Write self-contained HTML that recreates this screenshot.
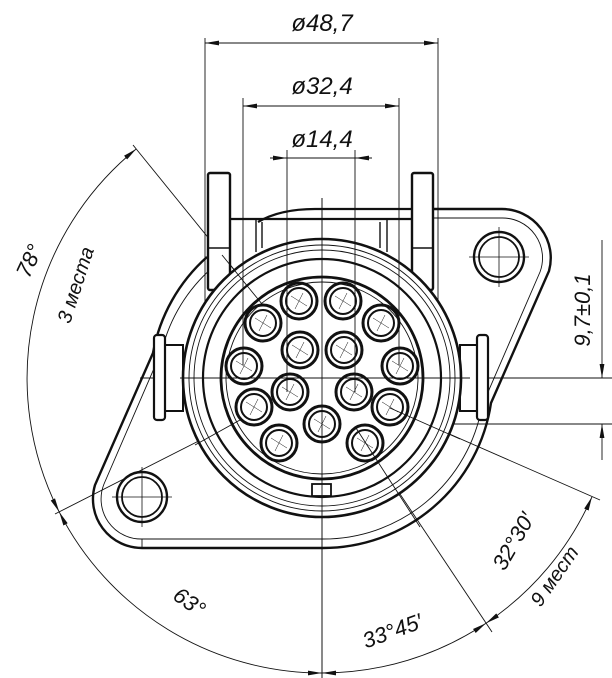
<!DOCTYPE html>
<html><head><meta charset="utf-8"><style>
html,body{margin:0;padding:0;background:#fff;}
svg{display:block;}
text{font-family:"Liberation Sans","DejaVu Sans",sans-serif;font-style:italic;fill:#111;}
</style></head><body>
<svg width="612" height="678" viewBox="0 0 612 678" xmlns="http://www.w3.org/2000/svg">
<defs>
<marker id="a" markerUnits="userSpaceOnUse" markerWidth="16" markerHeight="8" viewBox="-14 -4 16 8" refX="0" refY="0" orient="auto-start-reverse">
<path d="M0,0 L-14,-2.4 L-14,2.4 z" fill="#111"/>
</marker>
<g id="pc"><line x1="-8" y1="-5" x2="8" y2="5"/><line x1="-4" y1="8" x2="4" y2="-8"/></g>
</defs>
<g fill="none" stroke="#111">
<g stroke-width="0.9">
<line x1="322" y1="198" x2="322" y2="686"/>
<line x1="140" y1="378" x2="612" y2="378"/>
<line x1="400" y1="424" x2="612" y2="424"/>
<line x1="205" y1="38" x2="205" y2="330"/>
<line x1="438" y1="38" x2="438" y2="330"/>
<line x1="243" y1="98" x2="243" y2="365"/>
<line x1="399" y1="98" x2="399" y2="365"/>
<line x1="287" y1="150" x2="287" y2="392"/>
<line x1="355" y1="150" x2="355" y2="392"/>
<line x1="133" y1="145" x2="262" y2="304"/>
<line x1="55" y1="514" x2="240" y2="420"/>
<line x1="492" y1="632" x2="356" y2="428"/>
<line x1="600" y1="500" x2="390" y2="408"/>
<line x1="205" y1="43" x2="438" y2="43" marker-start="url(#a)" marker-end="url(#a)"/>
<line x1="243" y1="106" x2="399" y2="106" marker-start="url(#a)" marker-end="url(#a)"/>
<line x1="277" y1="158" x2="366" y2="158"/>
<line x1="270" y1="158" x2="287" y2="158" marker-end="url(#a)"/>
<line x1="372" y1="158" x2="355" y2="158" marker-end="url(#a)"/>
<line x1="602" y1="240" x2="602" y2="378" marker-end="url(#a)"/>
<line x1="602" y1="460" x2="602" y2="424" marker-end="url(#a)"/>
<path d="M136.4,148.8 A295,295 0 0 0 59.2,511.9" marker-start="url(#a)" marker-end="url(#a)"/>
<path d="M59.2,511.9 A295,295 0 0 0 322,673" marker-start="url(#a)" marker-end="url(#a)"/>
<path d="M322,673 A295,295 0 0 0 486,623.2" marker-start="url(#a)" marker-end="url(#a)"/>
<path d="M486,623.2 A295,295 0 0 0 592,496.8" marker-start="url(#a)" marker-end="url(#a)"/>
</g>
<path d="M207,257 A169,169 0 0 0 153,353 L95,485 A49,49 0 0 0 142,548 L322,548 A170,170 0 0 0 491,403 L549,271 A49,49 0 0 0 502,209 L433,209" stroke-width="2.4"/>
<path d="M212,268 A160,160 0 0 0 162,350 L104,484 A40,40 0 0 0 142,539 L322,539 A161,161 0 0 0 482,406 L540,272 A40,40 0 0 0 502,218 L433,218" stroke-width="0.9"/>
<line x1="142" y1="539" x2="142" y2="548" stroke-width="0.9"/>
<circle cx="142" cy="497" r="25" stroke-width="2.4"/>
<circle cx="142" cy="497" r="20" stroke-width="1.8"/>
<circle cx="499" cy="257" r="25" stroke-width="2.4"/>
<circle cx="499" cy="257" r="20" stroke-width="1.8"/>
<g stroke-width="0.8">
<line x1="112" y1="497" x2="172" y2="497"/><line x1="142" y1="467" x2="142" y2="527"/>
<line x1="469" y1="257" x2="529" y2="257"/><line x1="499" y1="227" x2="499" y2="287"/>
</g>
<path d="M258,222 Q280,209 315,209 L412,209" stroke-width="2.2"/>
<line x1="230" y1="219" x2="412" y2="219" stroke-width="2.2"/>
<g stroke-width="1.4">
<line x1="256" y1="219" x2="256" y2="252"/><line x1="262" y1="222" x2="262" y2="248"/>
<line x1="380" y1="222" x2="380" y2="248"/><line x1="387" y1="219" x2="387" y2="252"/>
</g>
<rect x="208" y="173" width="22" height="117" rx="2" fill="#fff" stroke-width="2.4"/>
<line x1="208" y1="248" x2="230" y2="248" stroke-width="1.6"/>
<rect x="412" y="173" width="21" height="117" rx="2" fill="#fff" stroke-width="2.4"/>
<line x1="412" y1="248" x2="433" y2="248" stroke-width="1.6"/>
<rect x="165" y="345" width="18" height="66" fill="#fff" stroke-width="2"/>
<rect x="154" y="335" width="11" height="85" rx="3" fill="#fff" stroke-width="2.2"/>
<rect x="460" y="345" width="17" height="66" fill="#fff" stroke-width="2"/>
<rect x="477" y="335" width="11" height="85" rx="3" fill="#fff" stroke-width="2.2"/>
<circle cx="322" cy="378" r="139" fill="#fff" stroke-width="2.6"/>
<circle cx="322" cy="378" r="133" stroke-width="0.9"/>
<circle cx="322" cy="378" r="128" stroke-width="0.9"/>
<circle cx="322" cy="378" r="119" stroke-width="2.2"/>
<circle cx="322" cy="378" r="101" stroke-width="2.8"/>
<circle cx="322" cy="378" r="96" stroke-width="0.9"/>
<rect x="312" y="484" width="19" height="12" fill="#fff" stroke-width="1.8"/>
<g stroke-width="0.9">
<line x1="322" y1="198" x2="322" y2="686"/>
<line x1="180" y1="378" x2="470" y2="378"/>
<line x1="243" y1="240" x2="243" y2="365"/>
<line x1="399" y1="240" x2="399" y2="365"/>
<line x1="287" y1="240" x2="287" y2="392"/>
<line x1="355" y1="240" x2="355" y2="392"/>
<line x1="222" y1="255" x2="262" y2="304"/>
<line x1="195" y1="445" x2="240" y2="420"/>
<line x1="420" y1="527" x2="356" y2="428"/>
<line x1="460" y1="439" x2="390" y2="408"/>
</g>
<g stroke-width="0.5">
<use href="#pc" x="299" y="301"/><use href="#pc" x="343" y="301"/>
<use href="#pc" x="381" y="323"/><use href="#pc" x="263" y="323"/>
<use href="#pc" x="400" y="366"/><use href="#pc" x="244" y="366"/>
<use href="#pc" x="390" y="407"/><use href="#pc" x="254" y="407"/>
<use href="#pc" x="365" y="443"/><use href="#pc" x="279" y="443"/>
<use href="#pc" x="300" y="350"/><use href="#pc" x="344" y="350"/>
<use href="#pc" x="290" y="392"/><use href="#pc" x="354" y="392"/>
<use href="#pc" x="322" y="424"/>
</g>
<g stroke-width="3">
<circle cx="299" cy="301" r="18"/><circle cx="343" cy="301" r="18"/>
<circle cx="381" cy="323" r="18"/><circle cx="263" cy="323" r="18"/>
<circle cx="400" cy="366" r="18"/><circle cx="244" cy="366" r="18"/>
<circle cx="390" cy="407" r="18"/><circle cx="254" cy="407" r="18"/>
<circle cx="365" cy="443" r="18"/><circle cx="279" cy="443" r="18"/>
<circle cx="300" cy="350" r="18"/><circle cx="344" cy="350" r="18"/>
<circle cx="290" cy="392" r="18"/><circle cx="354" cy="392" r="18"/>
<circle cx="322" cy="424" r="18"/>
</g>
<g stroke-width="2">
<circle cx="299" cy="301" r="13"/><circle cx="343" cy="301" r="13"/>
<circle cx="381" cy="323" r="13"/><circle cx="263" cy="323" r="13"/>
<circle cx="400" cy="366" r="13"/><circle cx="244" cy="366" r="13"/>
<circle cx="390" cy="407" r="13"/><circle cx="254" cy="407" r="13"/>
<circle cx="365" cy="443" r="13"/><circle cx="279" cy="443" r="13"/>
<circle cx="300" cy="350" r="13"/><circle cx="344" cy="350" r="13"/>
<circle cx="290" cy="392" r="13"/><circle cx="354" cy="392" r="13"/>
<circle cx="322" cy="424" r="13"/>
</g>
</g>
<text x="322" y="31" font-size="24" text-anchor="middle">ø48,7</text>
<text x="322" y="94" font-size="24" text-anchor="middle">ø32,4</text>
<text x="322" y="147" font-size="24" text-anchor="middle">ø14,4</text>
<text x="0" y="0" font-size="22" text-anchor="middle" transform="translate(590,310) rotate(-90)">9,7±0,1</text>
<text x="0" y="0" font-size="22" text-anchor="middle" transform="translate(36,264) rotate(-65)">78°</text>
<text x="0" y="0" font-size="20" text-anchor="middle" transform="translate(82,287) rotate(-72)">3 места</text>
<text x="0" y="0" font-size="22" text-anchor="middle" transform="translate(185,608) rotate(36)">63°</text>
<text x="0" y="0" font-size="22" text-anchor="middle" transform="translate(395,638) rotate(-20)">33°45′</text>
<text x="0" y="0" font-size="22" text-anchor="middle" transform="translate(520,545) rotate(-60)">32°30′</text>
<text x="0" y="0" font-size="20" text-anchor="middle" transform="translate(560,580) rotate(-55)">9 мест</text>
</svg>
</body></html>
